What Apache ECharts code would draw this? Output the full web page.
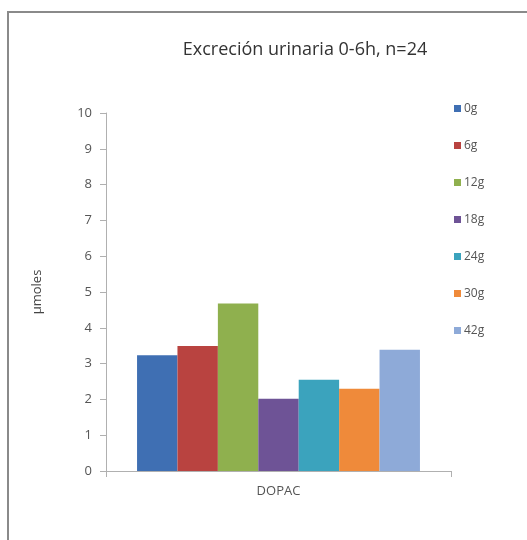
<!DOCTYPE html>
<html>
<head>
<meta charset="utf-8">
<script src="https://cdn.jsdelivr.net/npm/echarts@6/dist/echarts.min.js"></script>
<style>
  html, body { margin: 0; padding: 0; background: #fff; }
  #chart { width: 527px; height: 540px; }
</style>
</head>
<body>
<div id="chart"></div>
<script>
// Urinary DOPAC excretion (µmoles) per dose group
const categories = ['DOPAC'];
const seriesNames = ['0g', '6g', '12g', '18g', '24g', '30g', '42g'];
const seriesValues = [3.23, 3.49, 4.68, 2.02, 2.55, 2.30, 3.39];
const seriesColors = ['#3f6fb3', '#b94340', '#8fb04e', '#6e5396', '#3ba3bd', '#ef8a3a', '#8eaad8'];
const yTicks = [0, 1, 2, 3, 4, 5, 6, 7, 8, 9, 10];

const font = '"Open Sans", "Liberation Sans", sans-serif';

const chart = echarts.init(document.getElementById('chart'), null, { renderer: 'canvas' });

chart.setOption({
  backgroundColor: '#fff',
  animation: false,
  title: {
    text: 'Excreción urinaria 0-6h, n=24',
    left: 300,
    top: 36,
    textAlign: 'center',
    textStyle: { fontFamily: font, fontSize: 18, fontWeight: 'normal', color: '#333' }
  },
  legend: {
    orient: 'vertical',
    left: 449,
    top: 95,
    itemWidth: 7,
    itemHeight: 7,
    itemGap: 20,
    icon: 'rect',
    data: seriesNames,
    textStyle: { fontFamily: font, fontSize: 12, color: '#555', lineHeight: 17, padding: [0, 0, 0, -2] }
  },
  grid: { left: 106, right: 76, top: 113, bottom: 69, containLabel: false },
  xAxis: {
    type: 'category',
    data: categories,
    axisLine: { lineStyle: { color: '#b0b0b0' } },
    axisTick: { show: true, length: 6, lineStyle: { color: '#b0b0b0' } },
    axisLabel: { fontFamily: font, fontSize: 13, color: '#555', margin: 14 }
  },
  yAxis: {
    type: 'value',
    name: 'µmoles',
    nameLocation: 'middle',
    nameGap: 62,
    nameRotate: 90,
    nameTextStyle: { fontFamily: font, fontSize: 13, color: '#444' },
    min: yTicks[0],
    max: yTicks[yTicks.length - 1],
    interval: 1,
    splitLine: { show: false },
    axisLine: { show: true, lineStyle: { color: '#b0b0b0' } },
    axisTick: { show: true, length: 6, lineStyle: { color: '#b0b0b0' } },
    axisLabel: { fontFamily: font, fontSize: 13, color: '#555', margin: 14 }
  },
  series: seriesNames.map((name, i) => ({
    name: name,
    type: 'bar',
    data: [seriesValues[i]],
    barGap: '0%',
    barCategoryGap: '18%',
    itemStyle: { color: seriesColors[i] }
  })),
  graphic: [{
    type: 'rect',
    shape: { x: 8, y: 12, width: 540, height: 560 },
    style: { fill: 'none', stroke: '#8a8a8a', lineWidth: 2 },
    silent: true
  }]
});
</script>
</body>
</html>
